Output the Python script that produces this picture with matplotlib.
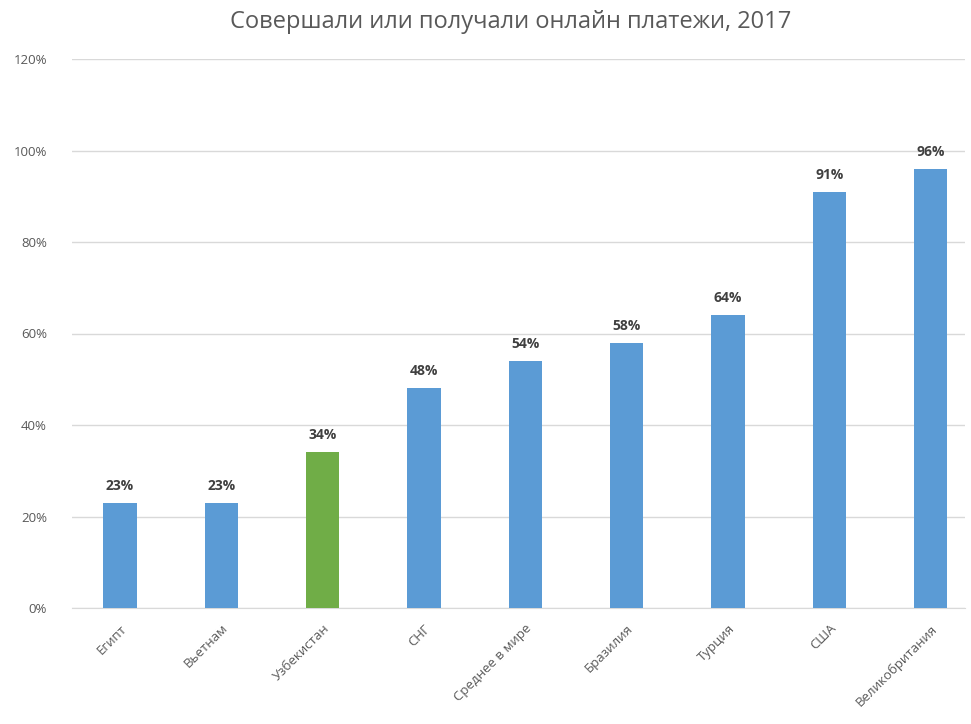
import matplotlib
matplotlib.use("Agg")
import matplotlib.pyplot as plt
from matplotlib.ticker import FuncFormatter

categories = ["Египт", "Вьетнам", "Узбекистан", "СНГ", "Среднее в мире",
              "Бразилия", "Турция", "США", "Великобритания"]
values = [23, 23, 34, 48, 54, 58, 64, 91, 96]
highlight = "Узбекистан"
yticks = [0, 20, 40, 60, 80, 100, 120]
title = "Совершали или получали онлайн платежи, 2017"

plt.rcParams['font.family'] = ['Open Sans', 'DejaVu Sans']

fig = plt.figure(figsize=(9.71, 7.24), dpi=100)
W, H = 971, 724
left, right, bottom, top = 72, 965, 608, 59
ax = fig.add_axes([left / W, 1 - bottom / H, (right - left) / W, (bottom - top) / H])

colors = ["#70AD47" if c == highlight else "#5B9BD5" for c in categories]
x = list(range(len(categories)))
ax.bar(x, values, width=0.33, color=colors, zorder=3)

for xi, v in zip(x, values):
    ax.text(xi, v + 2.2, f"{v}%", ha="center", va="bottom", fontsize=10,
            fontweight="bold", color="#404040")

ax.set_xlim(-0.474, 8.34)
ax.set_ylim(0, 120)
ax.set_yticks(yticks)
ax.yaxis.set_major_formatter(FuncFormatter(lambda v, p: f"{int(v)}%"))
ax.grid(axis="y", color="#D9D9D9", linewidth=1, zorder=0)
for s in ["top", "right", "left"]:
    ax.spines[s].set_visible(False)
ax.spines["bottom"].set_color("#D9D9D9")
ax.tick_params(axis="both", length=0, colors="#595959", labelsize=9.5)
ax.tick_params(axis="y", pad=18)
ax.set_xticks(x)
ax.set_xticklabels(categories, rotation=45, ha="right", rotation_mode="anchor")
ax.tick_params(axis="x", pad=10)

fig.text(511 / W, 1 - 22 / H, title, ha="center", va="center", fontsize=17, color="#595959")

fig.savefig("out.png", dpi=100, facecolor="white")
